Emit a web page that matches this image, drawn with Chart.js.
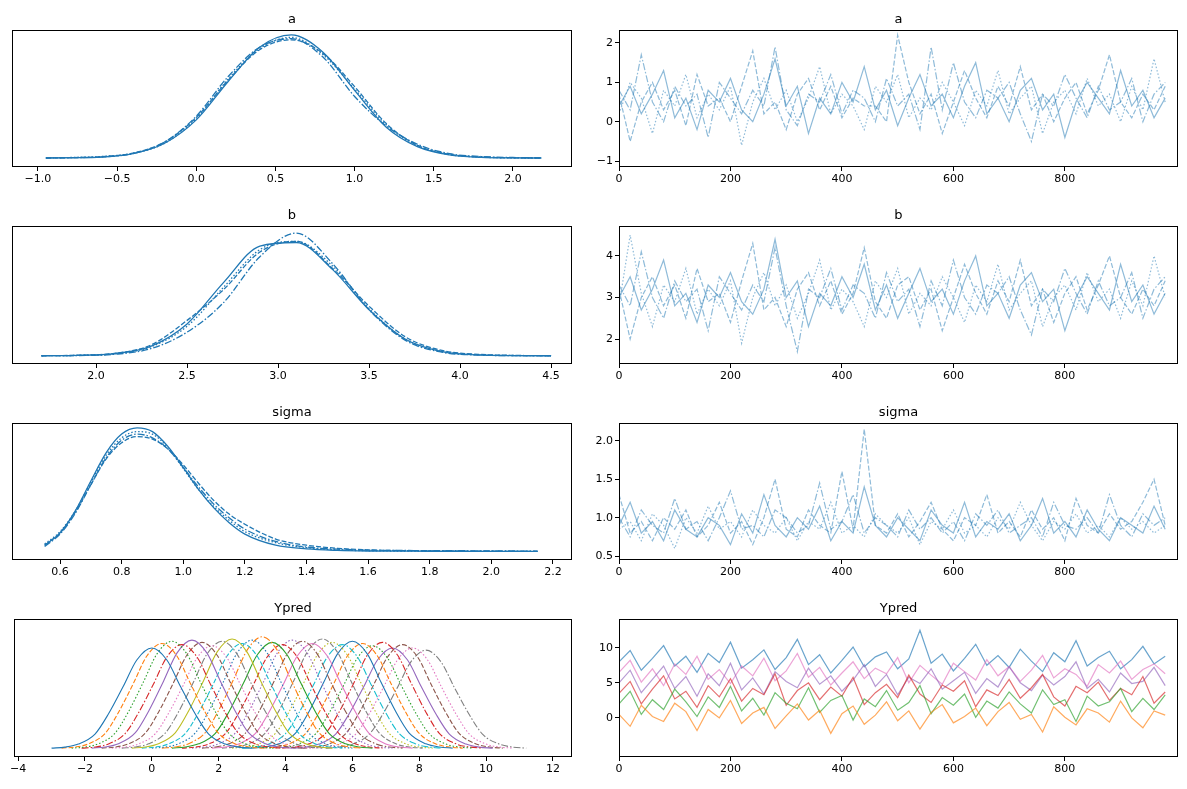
<!DOCTYPE html>
<html>
<head>
<meta charset="utf-8">
<script src="https://cdn.jsdelivr.net/npm/chart.js@4"></script>
<style>
  body { margin: 0; background: #fff; width: 1187px; height: 789px; position: relative; overflow: hidden; }
  canvas { position: absolute; }
</style>
</head>
<body>
<script>
// ---------------- data ----------------
const chainStyles = [[], [5, 2], [1.5, 2], [7, 2, 1.5, 2]];

// KDE grids and chain densities (normalised to peak ~1)
const aGrid = [-0.95, -0.8, -0.6, -0.4, -0.2, 0.0, 0.2, 0.4, 0.6, 0.8, 1.0, 1.2, 1.4, 1.6, 1.8, 2.0, 2.18];
const aKde = [
  [0.0, 0.002, 0.008, 0.035, 0.12, 0.31, 0.62, 0.9, 1.0, 0.86, 0.55, 0.25, 0.09, 0.025, 0.006, 0.001, 0.0],
  [0.0, 0.003, 0.01, 0.04, 0.13, 0.33, 0.63, 0.88, 0.96, 0.85, 0.58, 0.28, 0.1, 0.03, 0.008, 0.002, 0.0],
  [0.0, 0.004, 0.012, 0.038, 0.12, 0.32, 0.64, 0.89, 0.98, 0.84, 0.56, 0.27, 0.1, 0.028, 0.007, 0.001, 0.0],
  [0.0, 0.003, 0.009, 0.036, 0.13, 0.34, 0.66, 0.9, 0.97, 0.82, 0.5, 0.26, 0.11, 0.035, 0.012, 0.004, 0.001]
];
const bGrid = [1.7, 1.9, 2.1, 2.3, 2.5, 2.7, 2.9, 3.1, 3.3, 3.5, 3.7, 3.9, 4.1, 4.3, 4.5];
const bKde = [
  [0.0, 0.003, 0.018, 0.08, 0.27, 0.62, 0.93, 0.96, 0.73, 0.39, 0.14, 0.035, 0.007, 0.001, 0.0],
  [0.0, 0.004, 0.02, 0.09, 0.3, 0.56, 0.88, 0.97, 0.74, 0.42, 0.16, 0.045, 0.012, 0.003, 0.0],
  [0.0, 0.003, 0.016, 0.075, 0.25, 0.58, 0.9, 0.97, 0.76, 0.4, 0.14, 0.038, 0.008, 0.002, 0.0],
  [0.0, 0.002, 0.012, 0.06, 0.2, 0.45, 0.84, 1.04, 0.78, 0.39, 0.13, 0.03, 0.006, 0.001, 0.0]
];
const sGrid = [0.55, 0.6, 0.65, 0.7, 0.75, 0.8, 0.85, 0.9, 0.95, 1.0, 1.05, 1.1, 1.15, 1.2, 1.3, 1.4, 1.5, 1.6, 1.8, 2.0, 2.15];
const sKde = [
  [0.05, 0.15, 0.33, 0.57, 0.8, 0.95, 1.0, 0.97, 0.85, 0.68, 0.5, 0.35, 0.23, 0.14, 0.05, 0.02, 0.008, 0.003, 0.001, 0.0, 0.0],
  [0.05, 0.15, 0.32, 0.54, 0.75, 0.88, 0.93, 0.91, 0.83, 0.7, 0.55, 0.41, 0.3, 0.22, 0.1, 0.05, 0.025, 0.012, 0.004, 0.001, 0.0],
  [0.06, 0.16, 0.33, 0.56, 0.78, 0.92, 0.97, 0.95, 0.84, 0.67, 0.5, 0.36, 0.25, 0.16, 0.07, 0.03, 0.012, 0.005, 0.002, 0.0, 0.0],
  [0.04, 0.14, 0.31, 0.54, 0.76, 0.9, 0.95, 0.92, 0.83, 0.68, 0.52, 0.38, 0.27, 0.18, 0.08, 0.035, 0.018, 0.01, 0.006, 0.004, 0.002]
];
// Ypred: one read kernel shape, centres and heights of the per-observation KDEs
const yShapeOff = [-3.0, -2.6, -2.2, -1.7, -1.3, -0.85, -0.45, 0.0, 0.45, 0.85, 1.3, 1.7, 2.2, 2.6, 3.0];
const yShapeVal = [0.0, 0.01, 0.04, 0.14, 0.34, 0.62, 0.88, 1.0, 0.88, 0.62, 0.34, 0.14, 0.04, 0.01, 0.0];
const yCentres = [0.0, 0.3, 0.6, 0.9, 1.2, 1.5, 1.8, 2.1, 2.4, 2.7, 3.0, 3.3, 3.6, 3.9, 4.2, 4.5, 4.8, 5.1, 5.4, 5.7, 6.0, 6.3, 6.6, 6.9, 7.2, 7.5, 7.8, 8.2];
const yHeights = [0.9, 0.94, 0.96, 0.93, 0.97, 0.95, 0.92, 0.96, 0.98, 0.94, 0.97, 1.0, 0.95, 0.93, 0.97, 0.96, 0.94, 0.98, 0.95, 0.93, 0.96, 0.94, 0.92, 0.95, 0.9, 0.93, 0.9, 0.88];
const tab10 = ["#1f77b4", "#ff7f0e", "#2ca02c", "#d62728", "#9467bd", "#8c564b", "#e377c2", "#7f7f7f", "#bcbd22", "#17becf"];

// trace draws (thinned)
const iters = [0, 20, 40, 60, 80, 100, 120, 140, 160, 180, 200, 220, 240, 260, 280, 300, 320, 340, 360, 380, 400, 420, 440, 460, 480, 500, 520, 540, 560, 580, 600, 620, 640, 660, 680, 700, 720, 740, 760, 780, 800, 820, 840, 860, 880, 900, 920, 940, 960, 980];
const aTrace = [
  [0.4,0.9,0.2,0.7,1.3,0.1,0.6,-0.2,0.8,0.5,1.1,0.3,0.0,0.7,1.6,0.4,0.9,-0.3,0.6,0.2,1.0,0.5,1.4,0.3,0.8,-0.1,0.6,1.2,0.4,0.7,0.1,0.9,1.5,0.2,0.6,0.0,0.8,1.1,0.3,0.7,-0.4,0.5,1.0,0.6,0.2,1.3,0.4,0.8,0.1,0.6],
  [0.7,-0.5,0.5,1.0,0.3,0.8,-0.1,1.2,0.4,0.6,0.0,0.9,1.8,0.2,0.5,-0.2,0.7,1.1,0.3,0.9,0.1,0.6,0.4,0.4,0.0,2.2,1.0,0.2,0.7,-0.3,0.5,1.3,0.6,0.1,0.9,0.4,1.4,0.3,0.7,0.0,0.6,1.0,0.2,0.8,1.7,0.5,0.1,0.7,0.3,0.9],
  [0.2,1.0,0.6,-0.3,0.8,0.4,1.2,0.1,0.7,0.3,0.9,-0.6,0.5,1.1,0.3,0.8,0.0,0.6,1.4,0.2,0.7,0.4,-0.2,0.9,0.5,1.2,0.1,0.6,0.3,1.0,0.5,-0.1,0.8,0.4,1.3,0.2,0.6,0.9,-0.3,0.5,0.8,0.2,1.1,0.4,0.7,0.0,0.9,0.3,1.6,0.5],
  [0.8,0.3,1.7,0.5,0.0,0.9,0.4,0.7,-0.4,1.0,0.6,0.2,0.8,0.4,1.9,0.3,-0.1,0.7,0.5,1.2,0.2,0.8,0.6,0.0,1.1,0.4,0.7,-0.2,1.9,0.3,1.5,0.5,0.1,0.8,0.6,1.0,0.2,-0.5,0.7,0.4,1.2,0.6,0.1,0.9,0.3,0.5,1.1,0.0,0.7,1.0]
];
const bTrace = [
  [3.0,3.5,2.7,3.2,3.9,2.8,3.1,2.4,3.3,3.0,3.6,2.9,2.6,3.2,4.4,3.0,3.4,2.3,3.1,2.8,3.5,3.0,3.8,2.7,3.3,2.5,3.1,3.7,2.9,3.2,2.6,3.4,4.0,2.8,3.1,2.5,3.3,3.6,2.9,3.2,2.2,3.0,3.5,3.1,2.7,3.8,2.9,3.3,2.6,3.1],
  [3.2,2.0,3.0,3.5,2.8,3.3,2.5,3.7,2.9,3.1,2.4,3.4,4.3,2.7,3.0,2.3,3.2,3.6,2.8,3.4,2.6,3.1,4.2,2.9,2.5,3.3,3.5,2.7,3.2,2.2,3.0,3.8,3.1,2.6,3.4,2.9,3.9,2.8,3.2,2.4,3.1,3.5,2.7,3.3,4.0,3.0,2.6,3.2,2.8,3.4],
  [2.8,4.5,3.1,2.3,3.3,2.9,3.7,2.6,3.2,2.8,3.4,1.9,3.0,3.6,2.8,3.3,2.5,3.1,3.9,2.7,3.2,2.9,2.3,3.4,3.0,3.7,2.6,3.1,2.8,3.5,3.0,2.4,3.3,2.9,3.8,2.7,3.1,3.4,2.3,3.0,3.3,2.7,3.6,2.9,3.2,2.5,3.4,2.8,4.0,3.0],
  [3.3,2.8,4.1,3.0,2.5,3.4,2.9,3.2,2.2,3.5,3.1,2.7,3.3,2.9,4.2,2.8,1.7,3.2,3.0,3.7,2.7,3.3,3.1,2.5,3.6,2.9,3.2,2.3,3.4,2.8,3.9,3.0,2.6,3.3,3.1,3.5,2.7,2.1,3.2,2.9,3.7,3.1,2.6,3.4,2.8,3.0,3.6,2.5,3.2,3.5]
];
const sTrace = [
  [0.9,1.2,0.8,0.95,0.7,1.1,0.85,0.75,1.0,0.9,0.65,1.05,0.8,1.3,0.9,0.75,1.0,0.85,1.15,0.7,0.95,0.8,1.4,0.9,0.75,1.0,0.85,0.7,1.1,0.9,0.8,1.2,0.75,0.95,0.85,1.05,0.7,0.9,1.25,0.8,0.95,0.75,1.1,0.85,0.7,1.0,0.9,0.8,1.15,0.85],
  [1.3,0.8,0.95,0.7,1.0,0.85,1.1,0.75,0.9,1.2,0.8,0.95,0.65,1.0,1.5,0.85,0.75,1.1,0.9,0.8,1.6,0.85,2.15,0.9,0.8,1.05,0.75,0.95,1.2,0.85,0.7,1.0,0.9,1.3,0.8,0.95,0.75,1.1,0.85,1.0,0.7,1.25,0.9,0.8,1.05,0.85,0.95,1.2,1.5,0.9],
  [0.85,0.95,0.7,1.05,0.9,0.6,1.0,0.8,1.15,0.85,0.95,0.75,1.1,0.9,0.8,1.0,0.7,0.95,0.85,1.2,0.8,0.9,0.75,1.05,0.9,0.8,1.0,0.65,0.95,0.85,1.1,0.8,0.9,0.75,1.0,0.85,1.2,0.9,0.7,0.95,0.85,1.05,0.8,0.9,0.75,1.0,0.85,0.95,0.8,0.9],
  [1.0,0.75,1.1,0.9,0.8,1.25,0.85,0.95,0.7,1.0,1.35,0.85,0.9,0.75,1.1,1.0,0.8,0.9,1.45,0.85,0.95,1.3,0.8,1.0,0.9,0.75,1.1,0.85,1.0,0.8,0.95,0.7,1.05,0.9,1.1,0.8,0.9,1.0,0.75,1.2,0.9,0.85,1.0,0.8,1.3,0.9,0.75,1.05,0.9,1.0]
];
const yTraceColors = ["#ff7f0e", "#2ca02c", "#d62728", "#9467bd", "#e377c2", "#1f77b4"];
const yTrace = [
  [0.5,-1.2,1.8,0.2,-0.5,2.1,0.9,-1.8,1.2,0.0,2.5,-0.8,0.7,1.5,-1.5,0.3,2.0,-0.3,1.1,-2.2,0.6,1.7,-0.9,0.4,2.3,-0.4,1.0,-1.6,0.8,1.9,-0.7,0.2,1.4,-1.1,0.9,2.2,-0.2,0.5,-2.0,1.6,0.1,-1.0,1.3,0.7,-0.6,2.4,0.0,-1.4,1.0,0.4],
  [2.0,3.8,0.5,2.6,1.2,4.1,2.3,0.2,3.0,1.5,4.5,1.0,2.8,0.4,3.6,2.1,1.3,4.3,0.8,2.5,3.2,-0.3,2.7,1.6,3.9,1.1,2.2,4.6,0.6,2.9,1.8,3.4,0.1,2.4,1.4,3.7,2.0,0.7,4.0,1.9,2.6,-0.5,3.1,1.7,2.3,4.2,0.9,2.8,1.2,3.3],
  [3.5,5.2,2.0,4.1,6.0,2.7,3.8,1.5,4.6,3.0,5.6,2.4,4.2,3.3,6.3,1.8,3.9,5.0,2.6,4.4,3.1,5.8,1.9,3.6,4.8,2.9,6.1,3.4,2.2,4.7,3.8,5.3,1.6,4.0,3.2,5.5,2.8,4.3,6.2,3.0,1.7,4.5,3.6,5.1,2.5,4.2,3.3,5.9,2.1,3.7],
  [5.0,6.8,3.6,5.5,7.4,4.2,5.9,3.1,6.3,4.6,7.8,4.0,5.7,3.4,6.6,5.2,4.3,7.1,4.8,6.0,3.8,5.4,7.6,4.5,6.2,3.3,5.8,4.9,7.0,4.1,5.3,6.5,3.5,5.6,4.4,7.3,5.0,3.9,6.1,4.7,5.9,8.0,4.2,5.5,3.7,6.4,4.9,5.2,7.2,4.6],
  [6.5,8.2,5.1,7.0,4.6,7.7,6.2,8.8,5.5,6.9,4.9,7.4,6.0,8.5,5.3,6.7,9.2,5.8,7.2,4.7,6.4,8.0,5.6,7.1,6.3,8.6,5.0,7.5,6.1,4.8,7.8,6.6,5.4,8.3,6.0,7.3,5.2,6.8,8.9,5.7,7.0,6.2,4.5,7.6,6.4,8.1,5.5,6.9,7.7,6.3],
  [8.0,9.6,6.8,8.5,10.3,7.4,8.8,6.5,9.2,7.9,10.8,7.1,8.3,9.7,6.9,8.6,11.2,7.6,9.0,6.4,8.2,10.1,7.3,8.7,9.4,7.0,8.4,12.5,7.8,9.1,6.7,8.5,10.5,7.5,8.9,7.2,9.8,8.1,6.6,9.3,8.0,11.0,7.4,8.6,9.5,7.0,8.3,10.2,7.7,8.8]
];

// axis ticks
const aTicks = [-1.0, -0.5, 0.0, 0.5, 1.0, 1.5, 2.0];
const bTicks = [2.0, 2.5, 3.0, 3.5, 4.0, 4.5];
const sTicks = [0.6, 0.8, 1.0, 1.2, 1.4, 1.6, 1.8, 2.0, 2.2];
const yTicks = [-4, -2, 0, 2, 4, 6, 8, 10, 12];
const iterTicks = [0, 200, 400, 600, 800];
const aTrTicks = [-1, 0, 1, 2];
const bTrTicks = [2, 3, 4];
const sTrTicks = [0.5, 1.0, 1.5, 2.0];
const yTrTicks = [0, 5, 10];

// ---------------- drawing ----------------
Chart.defaults.font.family = "'DejaVu Sans', sans-serif";
Chart.defaults.font.size = 11;
Chart.defaults.color = "#000";
Chart.defaults.animation = false;

const framePlugin = {
  id: "frame",
  afterDraw(chart) {
    const a = chart.chartArea, c = chart.ctx;
    c.save();
    c.strokeStyle = "#000";
    c.lineWidth = 1;
    c.strokeRect(Math.round(a.left) + 0.5, Math.round(a.top) + 0.5, Math.round(a.right - a.left) - 1, Math.round(a.bottom - a.top) - 1);
    c.fillStyle = "#000";
    c.font = "13px 'DejaVu Sans', sans-serif";
    c.textAlign = "center";
    c.fillText(chart.options.plugins.panelTitle, (a.left + a.right) / 2, a.top - 7);
    c.restore();
  }
};

function fmt(v, dec) { return v.toFixed(dec).replace("-", "\u2212"); }

function panel(rect, yWidth, title, datasets, xr, xt, xdec, yr, yt, ydec) {
  const cv = document.createElement("canvas");
  const L = rect[0] - yWidth, T = rect[1] - 25;
  const W = rect[2] - rect[0] + yWidth + 12, H = rect[3] - rect[1] + 25 + 22;
  cv.style.left = L + "px"; cv.style.top = T + "px";
  cv.style.width = W + "px"; cv.style.height = H + "px";
  cv.width = W; cv.height = H;
  document.body.appendChild(cv);
  new Chart(cv, {
    type: "line",
    data: { datasets: datasets },
    options: {
      responsive: false,
      devicePixelRatio: 1,
      layout: { padding: { top: 25, right: 12, left: 0, bottom: 0 } },
      plugins: { legend: { display: false }, tooltip: { enabled: false }, panelTitle: title },
      elements: { point: { radius: 0 } },
      scales: {
        x: {
          type: "linear", min: xr[0], max: xr[1],
          afterBuildTicks: s => { s.ticks = xt.map(v => ({ value: v })); },
          afterFit: s => { s.height = 22; },
          ticks: { callback: v => fmt(v, xdec), maxRotation: 0, autoSkip: false, padding: 2 },
          grid: { drawOnChartArea: false, tickLength: 4, color: "#000" },
          border: { display: false }
        },
        y: {
          type: "linear", min: yr[0], max: yr[1],
          afterBuildTicks: s => { s.ticks = yt.map(v => ({ value: v })); },
          afterFit: s => { s.width = yWidth; },
          ticks: { display: yt.length > 0, callback: v => fmt(v, ydec), padding: 2 },
          grid: { drawOnChartArea: false, drawTicks: yt.length > 0, tickLength: 4, color: "#000" },
          border: { display: false }
        }
      }
    },
    plugins: [framePlugin]
  });
}

function kdeSets(grid, curves) {
  return curves.map((c, i) => ({
    data: grid.map((x, j) => ({ x: x, y: c[j] })),
    borderColor: "#1f77b4", borderWidth: 1.3, borderDash: chainStyles[i],
    cubicInterpolationMode: "monotone"
  }));
}
function traceSets(chains, colors, alpha) {
  return chains.map((c, i) => ({
    data: iters.map((x, j) => ({ x: x, y: c[j] })),
    borderColor: colors ? colors[i] + alpha : "rgba(31,119,180,0.5)",
    borderWidth: 1.2, borderDash: colors ? [] : chainStyles[i]
  }));
}

const ypredKde = yCentres.map((c, i) => ({
  data: yShapeOff.map((o, j) => ({ x: c + o, y: yShapeVal[j] * yHeights[i] })),
  borderColor: tab10[i % 10], borderWidth: 1.1, borderDash: chainStyles[i % 4],
  cubicInterpolationMode: "monotone"
}));

const iterRange = [0, 1003];
panel([12, 30, 572, 167], 4, "a", kdeSets(aGrid, aKde), [-1.164, 2.373], aTicks, 1, [-0.073, 1.04], [], 0);
panel([619, 30, 1178, 167], 30, "a", traceSets(aTrace), iterRange, iterTicks, 0, [-1.15, 2.33], aTrTicks, 0);
panel([12, 226, 572, 364], 4, "b", kdeSets(bGrid, bKde), [1.538, 4.615], bTicks, 1, [-0.07, 1.1], [], 0);
panel([619, 226, 1178, 364], 30, "b", traceSets(bTrace), iterRange, iterTicks, 0, [1.40, 4.72], bTrTicks, 0);
panel([12, 423, 572, 560], 4, "sigma", kdeSets(sGrid, sKde), [0.444, 2.262], sTicks, 1, [-0.07, 1.04], [], 0);
panel([619, 423, 1178, 560], 30, "sigma", traceSets(sTrace), iterRange, iterTicks, 0, [0.45, 2.23], sTrTicks, 1);
panel([12, 619, 572, 757], 4, "Ypred", ypredKde, [-4.12, 12.57], yTicks, 0, [-0.08, 1.16], [], 0);
panel([619, 619, 1178, 757], 30, "Ypred", traceSets(yTrace, yTraceColors, "aa"), iterRange, iterTicks, 0, [-5.57, 14.1], yTrTicks, 0);
</script>
</body>
</html>
